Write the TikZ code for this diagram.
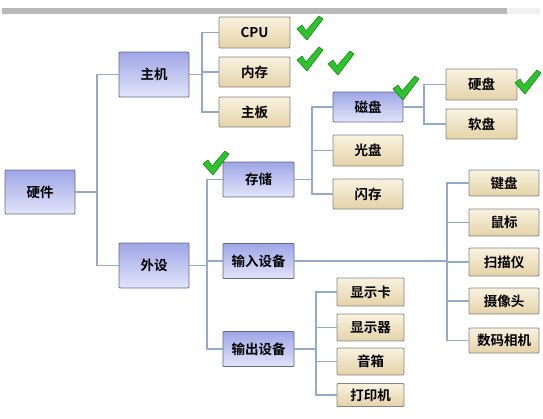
\documentclass[tikz,border=0pt]{standalone}
\usepackage{fontspec}
\newfontfamily\cjk{Noto Sans CJK SC}[BoldFont={Noto Sans CJK SC Bold}]
\definecolor{blueTop}{HTML}{9EA5E6}
\definecolor{blueBot}{HTML}{E2E5FA}
\definecolor{blueEdge}{HTML}{5F6B86}
\definecolor{beigeTop}{HTML}{F9F2E0}
\definecolor{beigeBot}{HTML}{E4D3A8}
\definecolor{beigeEdge}{HTML}{858585}
\definecolor{connCol}{HTML}{94AACB}
\definecolor{tickFill}{HTML}{2EC22E}
\definecolor{tickEdge}{HTML}{168A16}
\begin{document}
\begin{tikzpicture}[x=1pt,y=-1pt,
  base/.style={draw, line width=0.9pt, rounded corners=1pt, inner sep=0pt,
    font=\cjk\bfseries\fontsize{13.5}{13.5}\selectfont, text=black},
  catbox/.style={base, draw=blueEdge, top color=blueTop, bottom color=blueBot,
    minimum width=70pt, minimum height=#1},
  catbox/.default=45pt,
  leafbox/.style={base, draw=beigeEdge, top color=beigeTop, bottom color=beigeBot,
    minimum width=71pt, minimum height=#1},
  leafbox/.default=30pt,
  conn/.style={draw=connCol, line width=1.3pt},
  greentick/.pic={
    \filldraw[fill=tickFill, draw=tickEdge, line width=0.6pt, line join=round]
      (0,13) -- (5,9) -- (9,15) -- (22,0) -- (26,3) -- (10,24) -- cycle;
  }]
\useasboundingbox (0,0) rectangle (543,418);
% top bar
\fill[gray!55] (2,8) rectangle (507,14);
\fill[gray!12] (507,8) rectangle (540,14);

% nodes
\node[catbox=44pt] (hw) at (40,192) {硬件};
\node[catbox] (zj) at (154,74.5) {主机};
\node[catbox] (ws) at (154,265.5) {外设};

\node[leafbox=31pt] (cpu) at (254.5,32.5) {CPU};
\node[leafbox] (nc) at (254.5,72) {内存};
\node[leafbox] (zb) at (254.5,112) {主板};

\node[catbox=35pt, minimum width=71pt] (cc) at (258.5,179.5) {存储};
\node[catbox=35pt, minimum width=71pt] (sr) at (258.5,261) {输入设备};
\node[catbox=35pt, minimum width=71pt] (sc) at (258.5,349) {输出设备};

\node[catbox=30pt] (cp) at (368,107) {磁盘};
\node[leafbox=31pt, minimum width=70pt] (gp) at (368,150.5) {光盘};
\node[leafbox, minimum width=70pt] (sc2) at (368,194) {闪存};

\node[leafbox=31pt] (yp) at (481.5,84.5) {硬盘};
\node[leafbox] (rp) at (481.5,124) {软盘};

\node[leafbox=26pt, minimum width=70pt] (jp) at (504,183) {键盘};
\node[leafbox=27pt, minimum width=70pt] (sb) at (504,222.5) {鼠标};
\node[leafbox=28pt, minimum width=70pt] (smy) at (504,262) {扫描仪};
\node[leafbox=26pt, minimum width=70pt] (sxt) at (504,301) {摄像头};
\node[leafbox=25pt, minimum width=70pt] (smxj) at (504,340.5) {数码相机};

\node[leafbox=28pt, minimum width=67pt] (xsk) at (370.5,292) {显示卡};
\node[leafbox=27pt, minimum width=67pt] (xsq) at (370.5,327.5) {显示器};
\node[leafbox=27pt, minimum width=67pt] (yx) at (370.5,361.5) {音箱};
\node[leafbox=23pt, minimum width=67pt] (dyj) at (370.5,395) {打印机};

% bus coordinates
\coordinate (b0) at (97,0);
\coordinate (b1) at (202,0);
\coordinate (b2) at (207,0);
\coordinate (b3) at (312,0);
\coordinate (b4) at (424,0);
\coordinate (b5) at (447,0);
\coordinate (b6) at (316,0);

% connectors
\foreach \c in {zj,ws} \draw[conn] (hw.east) -- (hw.east -| b0) |- (\c.west);
\foreach \c in {cpu,nc,zb} \draw[conn] (zj.east) -- (zj.east -| b1) |- (\c.west);
\foreach \c in {cc,sr,sc} \draw[conn] (ws.east) -- (ws.east -| b2) |- (\c.west);
\foreach \c in {cp,gp,sc2} \draw[conn] (cc.east) -- (cc.east -| b3) |- (\c.west);
\foreach \c in {yp,rp} \draw[conn] (cp.east) -- (cp.east -| b4) |- (\c.west);
\foreach \c in {jp,sb,smy,sxt,smxj} \draw[conn] (sr.east) -- (sr.east -| b5) |- (\c.west);
\foreach \c in {xsk,xsq,yx,dyj} \draw[conn] (sc.east) -- (sc.east -| b6) |- (\c.west);

% ticks
\pic at (297,16) {greentick};
\pic at (297,47) {greentick};
\pic at (328,51) {greentick};
\pic at (393,76) {greentick};
\pic at (515,70) {greentick};
\pic at (203,151) {greentick};
\end{tikzpicture}
\end{document}
